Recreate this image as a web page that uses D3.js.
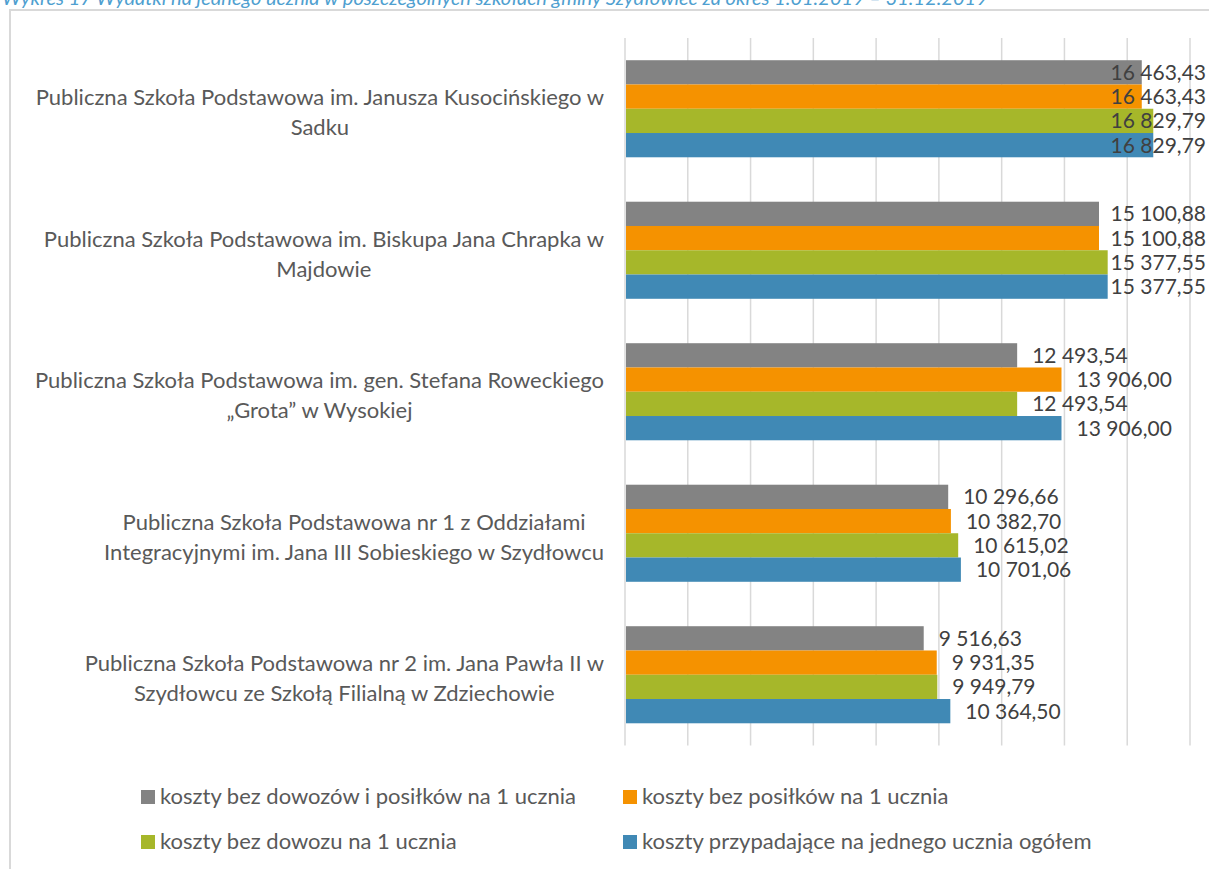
<!DOCTYPE html>
<html>
<head>
<meta charset="utf-8">
<script src="https://cdn.jsdelivr.net/npm/d3@7"></script>
<style>
  body { margin: 0; background: #fff; }
  svg { display: block; font-family: Lato, "Open Sans", sans-serif; }
</style>
</head>
<body>
<div id="vis1"></div>
<script>
// Declare constants
const FRAME_HEIGHT = 869;
const FRAME_WIDTH = 1209;
const PLOT = {left: 625, right: 1190, top: 38, bottom: 745.5};

// data
const TITLE = "Wykres 17 Wydatki na jednego ucznia w poszczególnych szkołach gminy Szydłowiec za okres 1.01.2019 – 31.12.2019";

const CATEGORIES = [
	["Publiczna Szkoła Podstawowa im. Janusza Kusocińskiego w", "Sadku"],
	["Publiczna Szkoła Podstawowa im. Biskupa Jana Chrapka w", "Majdowie"],
	["Publiczna Szkoła Podstawowa im. gen. Stefana Roweckiego", "„Grota” w Wysokiej"],
	["Publiczna Szkoła Podstawowa nr 1 z Oddziałami", "Integracyjnymi im. Jana III Sobieskiego w Szydłowcu"],
	["Publiczna Szkoła Podstawowa nr 2 im. Jana Pawła II w", "Szydłowcu ze Szkołą Filialną w Zdziechowie"]
];

const SERIES_NAMES = [
	"koszty bez dowozów i posiłków na 1 ucznia",
	"koszty bez posiłków na 1 ucznia",
	"koszty bez dowozu na 1 ucznia",
	"koszty przypadające na jednego ucznia ogółem"
];

const BEZ_DOWOZOW_I_POSILKOW = [16463.43, 15100.88, 12493.54, 10296.66, 9516.63];
const BEZ_POSILKOW = [16463.43, 15100.88, 13906.00, 10382.70, 9931.35];
const BEZ_DOWOZU = [16829.79, 15377.55, 12493.54, 10615.02, 9949.79];
const OGOLEM = [16829.79, 15377.55, 13906.00, 10701.06, 10364.50];

const X_TICKS = [0, 2000, 4000, 6000, 8000, 10000, 12000, 14000, 16000, 18000];

const COLORS = ["#838383", "#f59200", "#a6b72a", "#4089b5"];

const SERIES = [BEZ_DOWOZOW_I_POSILKOW, BEZ_POSILKOW, BEZ_DOWOZU, OGOLEM];

const FRAME1 = d3.select("#vis1")
	.append("svg")
		.attr("height", FRAME_HEIGHT)
		.attr("width", FRAME_WIDTH);

// number format like "16 463,43"
const plFormat = d3.formatLocale({decimal: ",", thousands: "\u00a0", grouping: [3], currency: ["", " zł"]});
const fmt = (v) => {
	return v >= 10000 ? plFormat.format(",.2f")(v) : plFormat.format(".2f")(v).replace(/^(\d)(\d{3})/, "$1\u00a0$2");
};

// title (cut off at the top, as in the source)
FRAME1.append("text")
	.attr("x", 2)
	.attr("y", 5)
	.attr("font-size", "20px")
	.attr("font-style", "italic")
	.attr("fill", "#4f9fd0")
	.text(TITLE);

// chart frame
FRAME1.append("rect")
	.attr("x", 10)
	.attr("y", 10)
	.attr("width", FRAME_WIDTH + 20)
	.attr("height", FRAME_HEIGHT + 20)
	.attr("fill", "none")
	.attr("stroke", "#d9d9d9")
	.attr("stroke-width", 2);

// scales
const X_SCALE = d3.scaleLinear()
	.domain([0, 18000])
	.range([PLOT.left, PLOT.right]);

const Y_SCALE = d3.scaleBand()
	.domain(d3.range(CATEGORIES.length))
	.range([PLOT.top, PLOT.bottom])
	.paddingInner(0.314)
	.paddingOuter(0.157);

const Y_INNER = d3.scaleBand()
	.domain(d3.range(SERIES.length))
	.range([0, Y_SCALE.bandwidth()]);

// gridlines
FRAME1.append("g")
	.selectAll("line")
	.data(X_TICKS)
	.enter()
	.append("line")
		.attr("x1", (d) => X_SCALE(d))
		.attr("x2", (d) => X_SCALE(d))
		.attr("y1", PLOT.top)
		.attr("y2", PLOT.bottom)
		.attr("stroke", "#d9d9d9")
		.attr("stroke-width", 1.5);

// bars
const rows = [];
SERIES.forEach((vals, s) => {
	vals.forEach((v, c) => { rows.push({s: s, c: c, v: v}); });
});

FRAME1.append("g")
	.selectAll("rect")
	.data(rows)
	.enter()
	.append("rect")
		.attr("x", X_SCALE(0) + 1)
		.attr("y", (d) => Y_SCALE(d.c) + Y_INNER(d.s))
		.attr("width", (d) => X_SCALE(d.v) - X_SCALE(0) - 1)
		.attr("height", Y_INNER.bandwidth())
		.attr("fill", (d) => COLORS[d.s]);

// value labels (pushed back inside the picture when they would overflow)
FRAME1.append("g")
	.selectAll("text")
	.data(rows)
	.enter()
	.append("text")
		.attr("y", (d) => Y_SCALE(d.c) + Y_INNER(d.s) + Y_INNER.bandwidth() / 2)
		.attr("dy", "0.36em")
		.attr("font-size", "21px")
		.attr("fill", "#404040")
		.text((d) => fmt(d.v))
		.attr("x", function(d) {
			const x = X_SCALE(d.v) + 15;
			const w = this.getComputedTextLength();
			return (x + w > FRAME_WIDTH - 4) ? FRAME_WIDTH - 3 - w : x;
		});

// category labels: block right-aligned, lines centred inside block
CATEGORIES.forEach((lines, c) => {
	const g = FRAME1.append("g");
	const mid = Y_SCALE(c) + Y_SCALE.bandwidth() / 2;
	const texts = g.selectAll("text")
		.data(lines)
		.enter()
		.append("text")
			.attr("y", (d, i) => mid + 3.5 + (i - (lines.length - 1) / 2) * 30)
			.attr("dy", "0.36em")
			.attr("text-anchor", "middle")
			.attr("font-size", "22px")
			.attr("fill", "#595959")
			.text((d) => d);
	let maxW = 0;
	texts.each(function() { maxW = Math.max(maxW, this.getComputedTextLength()); });
	texts.attr("x", 604 - maxW / 2);
});

// legend
const LEGEND_POS = [[141, 790], [623, 790], [141, 835], [623, 835]];
const legend = FRAME1.append("g")
	.selectAll("g")
	.data(SERIES_NAMES)
	.enter()
	.append("g")
		.attr("transform", (d, i) => "translate(" + LEGEND_POS[i][0] + "," + LEGEND_POS[i][1] + ")");

legend.append("rect")
	.attr("width", 14)
	.attr("height", 14)
	.attr("fill", (d, i) => COLORS[i]);

legend.append("text")
	.attr("x", 19)
	.attr("y", 14)
	.attr("font-size", "22px")
	.attr("fill", "#595959")
	.text((d) => d);
</script>
</body>
</html>
